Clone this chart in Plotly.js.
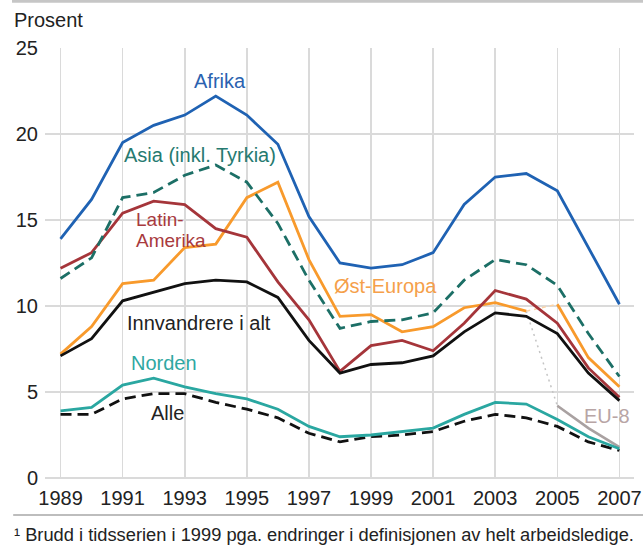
<!DOCTYPE html>
<html>
<head>
<meta charset="utf-8">
<script src="https://cdn.plot.ly/plotly-3.0.1.min.js"></script>
<style>html,body{margin:0;padding:0;background:#fff;}#chart{width:643px;height:548px;}</style>
</head>
<body>
<div id="chart"></div>
<script>
// Data (per cent, 1989-2007)
var years = [1989, 1990, 1991, 1992, 1993, 1994, 1995, 1996, 1997, 1998, 1999, 2000, 2001, 2002, 2003, 2004, 2005, 2006, 2007];
var afrika = [13.9, 16.2, 19.5, 20.5, 21.1, 22.2, 21.1, 19.4, 15.2, 12.5, 12.2, 12.4, 13.1, 15.9, 17.5, 17.7, 16.7, 13.4, 10.1];
var asia = [11.6, 12.8, 16.3, 16.6, 17.6, 18.2, 17.2, 14.8, 11.5, 8.7, 9.1, 9.2, 9.6, 11.5, 12.7, 12.4, 11.2, 8.4, 5.9];
var latinAmerika = [12.2, 13.1, 15.4, 16.1, 15.9, 14.5, 14.0, 11.4, 9.2, 6.2, 7.7, 8.0, 7.4, 9.0, 10.9, 10.4, 9.0, 6.4, 4.7];
var ostEuropa = [7.2, 8.8, 11.3, 11.5, 13.4, 13.6, 16.3, 17.2, 12.7, 9.4, 9.5, 8.5, 8.8, 9.9, 10.2, 9.7, 10.1, 7.0, 5.3];
var innvandrere = [7.1, 8.1, 10.3, 10.8, 11.3, 11.5, 11.4, 10.5, 8.0, 6.1, 6.6, 6.7, 7.1, 8.5, 9.6, 9.4, 8.4, 6.1, 4.5];
var norden = [3.9, 4.1, 5.4, 5.8, 5.3, 4.9, 4.6, 4.0, 3.0, 2.4, 2.5, 2.7, 2.9, 3.7, 4.4, 4.3, 3.4, 2.4, 1.7];
var alle = [3.7, 3.7, 4.6, 4.9, 4.9, 4.4, 4.0, 3.5, 2.6, 2.1, 2.4, 2.5, 2.7, 3.3, 3.7, 3.5, 3.0, 2.1, 1.6];
var eu8 = [null, null, null, null, null, null, null, null, null, null, null, null, null, null, null, null, 4.2, 2.9, 1.8];
var xTickVals = [1989, 1991, 1993, 1995, 1997, 1999, 2001, 2003, 2005, 2007];
var yTickVals = [0, 5, 10, 15, 20, 25];

var iBreak = years.indexOf(2004);   // last year of the old Øst-Europa definition
var iNew = years.indexOf(2005);

function line(x, y, color, width, dash) {
  return {x: x, y: y, type: 'scatter', mode: 'lines', hoverinfo: 'skip', showlegend: false,
          line: {color: color, width: width, dash: dash || 'solid'}};
}

var traces = [
  // connector from Øst-Europa 2004 to EU-8 2005 (grey dotted)
  line([years[iBreak], years[iNew]], [ostEuropa[iBreak], eu8[iNew]], '#c4c4c4', 1.5, '2px,4px'),
  // faint connector across the break in the Øst-Europa series
  line([years[iBreak], years[iNew]], [ostEuropa[iBreak], ostEuropa[iNew]], '#fcd3a6', 1.5, '4px,4px'),
  line(years, eu8, '#a9a1a1', 2.6),
  line(years, alle, '#111111', 2.8, '11px,6px'),
  line(years, norden, '#2aa7a1', 2.8),
  line(years.slice(0, iBreak + 1), ostEuropa.slice(0, iBreak + 1), '#f89a2c', 2.8),
  line(years.slice(iNew), ostEuropa.slice(iNew), '#f89a2c', 2.8),
  line(years, latinAmerika, '#a5353a', 2.8),
  line(years, innvandrere, '#111111', 2.8),
  line(years, asia, '#1c6f66', 2.8, '11px,6px'),
  line(years, afrika, '#1f62b3', 2.8)
];

var FAM = 'Liberation Sans, Arial, sans-serif';
function lbl(text, x, y, color, xanchor, size) {
  return {text: text, x: x, y: y, xref: 'x', yref: 'y', showarrow: false,
          xanchor: xanchor || 'center', yanchor: 'middle',
          font: {family: FAM, size: size || 20, color: color}};
}

var annotations = [
  lbl('Afrika', 1994.15, 23.1, '#2a62b0'),
  lbl('Asia (inkl. Tyrkia)', 1993.5, 18.8, '#267a70'),
  lbl('Latin-', 1991.38, 15.05, '#a83a3e', 'left', 19),
  lbl('Amerika', 1991.38, 13.78, '#a83a3e', 'left', 19),
  lbl('Øst-Europa', 1999.48, 11.16, '#f5a04a'),
  lbl('Innvandrere i alt', 1993.46, 9.0, '#222222'),
  lbl('Norden', 1992.32, 6.69, '#2fa8a2'),
  lbl('Alle', 1992.46, 3.78, '#222222'),
  lbl('EU-8', 2006.6, 3.6, '#b8a5a5'),
  {text: 'Prosent', xref: 'paper', yref: 'paper', x: -0.056, y: 1.065, xanchor: 'left', yanchor: 'middle',
   showarrow: false, font: {family: FAM, size: 20, color: '#222222'}},
  {text: '¹ Brudd i tidsserien i 1999 pga. endringer i definisjonen av helt arbeidsledige.',
   xref: 'paper', yref: 'paper', x: -0.056, y: -0.1325, xanchor: 'left', yanchor: 'middle',
   showarrow: false, font: {family: FAM, size: 18.3, color: '#222222'}}
];

var layout = {
  width: 643, height: 548,
  margin: {l: 45, r: 9, t: 48, b: 70, pad: 0},
  paper_bgcolor: '#ffffff', plot_bgcolor: '#ffffff',
  font: {family: FAM, size: 20, color: '#222222'},
  xaxis: {range: [1988.5, 2007.47], tickvals: xTickVals, ticktext: xTickVals.map(String),
          showgrid: true, gridcolor: '#dadada', gridwidth: 1.6, zeroline: false, showline: false,
          ticks: '', ticklabelstandoff: 6, tickfont: {size: 20, color: '#222222'}, fixedrange: true},
  yaxis: {range: [0, 25], tickvals: yTickVals, ticktext: yTickVals.map(String),
          showgrid: true, gridcolor: '#dadada', gridwidth: 1.6, zeroline: true, zerolinecolor: '#dadada',
          zerolinewidth: 1.6, showline: false, ticks: '', ticklabelstandoff: 6,
          tickfont: {size: 20, color: '#222222'}, fixedrange: true},
  shapes: [
    {type: 'line', xref: 'paper', yref: 'paper', x0: -0.056, x1: 1.016, y0: 1.1085, y1: 1.1085,
     line: {color: '#c6c6c6', width: 3}},
    {type: 'line', xref: 'paper', yref: 'paper', x0: -0.054, x1: 1.016, y0: -0.086, y1: -0.086,
     line: {color: '#bdbdbd', width: 2}}
  ],
  annotations: annotations
};

Plotly.newPlot('chart', traces, layout, {displayModeBar: false, staticPlot: true});
</script>
</body>
</html>
